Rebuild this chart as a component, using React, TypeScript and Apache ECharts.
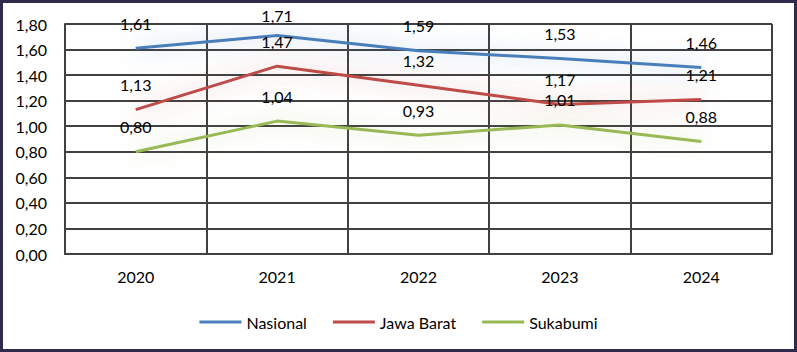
import React, { useEffect, useRef } from "react";
import * as echarts from "echarts";

const categories = ["2020", "2021", "2022", "2023", "2024"];
const nasional = [1.61, 1.71, 1.59, 1.53, 1.46];
const jawaBarat = [1.13, 1.47, 1.32, 1.17, 1.21];
const sukabumi = [0.8, 1.04, 0.93, 1.01, 0.88];
const seriesNames = ["Nasional", "Jawa Barat", "Sukabumi"];
const seriesColors = ["#4a7ebb", "#be4b48", "#98b954"];
const glowColors = ["rgba(74,126,187,0.6)", "rgba(190,75,72,0.55)", "rgba(152,185,84,0.55)"];

const fmt = (v: number) => v.toFixed(2).replace(".", ",");
const FONT = "Lato, 'Open Sans', sans-serif";

export default function App() {
  const ref = useRef<HTMLDivElement>(null);
  useEffect(() => {
    document.body.style.margin = "0";
    const chart = echarts.init(ref.current!, null, { renderer: "svg" });
    const data = [nasional, jawaBarat, sukabumi];
    chart.setOption({
      animation: false,
      backgroundColor: "#ffffff",
      textStyle: { fontFamily: FONT },
      grid: { left: 62, right: 22, top: 21, bottom: 95 },
      legend: {
        bottom: 14,
        left: "center",
        icon: "rect",
        itemWidth: 42,
        itemHeight: 3,
        itemGap: 26,
        textStyle: { fontSize: 16, color: "#000", fontFamily: FONT },
        data: seriesNames,
      },
      xAxis: {
        type: "category",
        data: categories,
        boundaryGap: true,
        axisLine: { show: true, lineStyle: { color: "#404040", width: 2 } },
        axisTick: { show: false },
        axisLabel: { fontSize: 16, color: "#000", margin: 14, fontFamily: FONT },
        splitLine: { show: true, lineStyle: { color: "#404040", width: 2 } },
      },
      yAxis: {
        type: "value",
        min: 0,
        max: 1.8,
        interval: 0.2,
        axisLine: { show: true, lineStyle: { color: "#404040", width: 2 } },
        axisTick: { show: false },
        axisLabel: { fontSize: 16, color: "#000", margin: 18, fontFamily: FONT, formatter: (v: number) => fmt(v) },
        splitLine: { show: true, lineStyle: { color: "#404040", width: 2 } },
      },
      series: seriesNames.map((name, i) => ({
        name,
        type: "line",
        data: data[i].map((v) => (v > 1.65 ? { value: v, label: { distance: 12 } } : v)),
        symbol: "circle",
        symbolSize: 0.01,
        showSymbol: true,
        color: seriesColors[i],
        itemStyle: { color: seriesColors[i] },
        lineStyle: { width: 3, color: seriesColors[i], shadowBlur: 22, shadowColor: glowColors[i] },
        label: {
          show: true,
          position: "top",
          distance: 17,
          fontSize: 16,
          color: "#000",
          fontFamily: FONT,
          formatter: (p: any) => fmt(p.value),
        },
        labelLayout: { hideOverlap: false },
        z: 3,
      })),
    });
    return () => chart.dispose();
  }, []);
  return (
    <div
      style={{
        width: 797,
        height: 352,
        boxSizing: "border-box",
        border: "3px solid #2f2b4c",
        background: "#fff",
      }}
    >
      <div ref={ref} style={{ width: 791, height: 346 }} />
    </div>
  );
}
